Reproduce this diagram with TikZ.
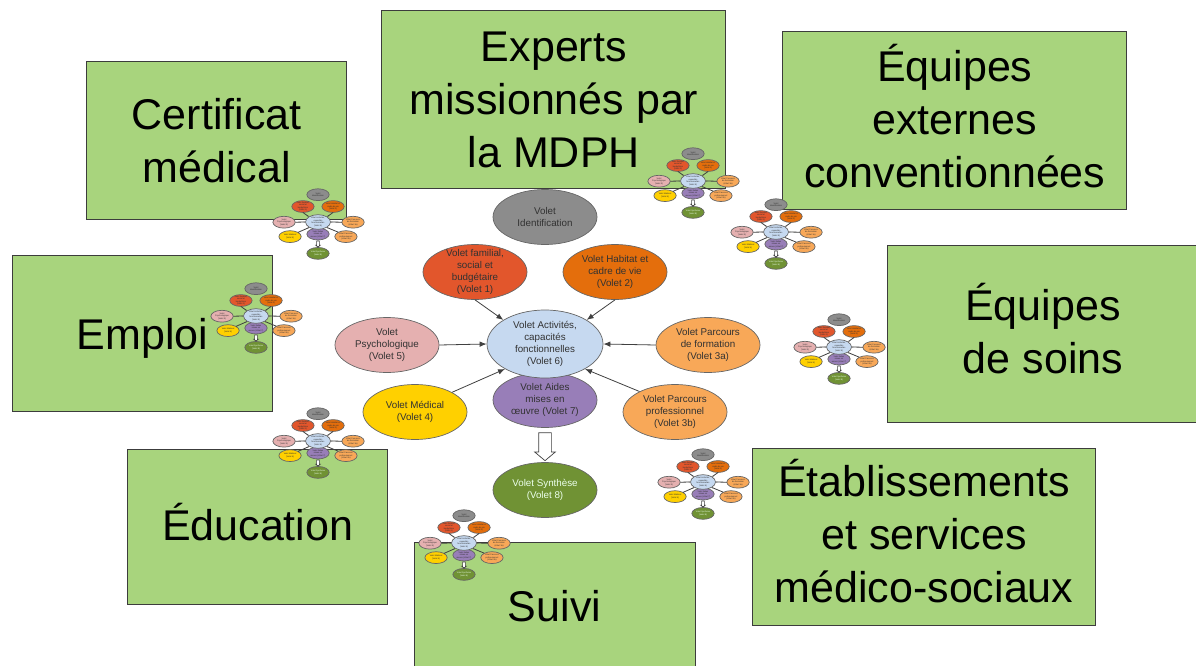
\documentclass[tikz,border=0pt]{standalone}
\usepackage{fontspec}
\setmainfont{Liberation Sans}
\usetikzlibrary{arrows.meta,shapes.geometric,shapes.arrows}

\definecolor{boxgreen}{RGB}{168,212,125}
\definecolor{boxline}{RGB}{60,60,60}
\definecolor{cid}{RGB}{140,140,140}
\definecolor{cfam}{RGB}{226,86,44}
\definecolor{chab}{RGB}{228,110,12}
\definecolor{cpsy}{RGB}{229,176,176}
\definecolor{cctr}{RGB}{198,217,240}
\definecolor{cform}{RGB}{248,168,88}
\definecolor{cmed}{RGB}{255,208,0}
\definecolor{caid}{RGB}{152,126,184}
\definecolor{csyn}{RGB}{112,146,52}
\definecolor{vtextc}{RGB}{50,50,50}

\tikzset{
  topic/.style={draw=boxline, line width=1pt, fill=boxgreen, inner sep=0pt},
  topictext/.style={align=center, font=\fontsize{43}{53}\selectfont, inner sep=0pt},
  volet/.style={ellipse, draw=black!60, line width=0.7pt, fill=#1,
    minimum width=104pt, minimum height=55pt, inner sep=0pt},
  vtext/.style={align=center, font=\fontsize{9.8}{12}\selectfont, text=vtextc, inner sep=0pt},
  feed/.style={draw=black!75, line width=0.8pt, -{Latex[length=7pt,width=5.5pt,scale=#1]}},
  voletdiag/.pic={
    \node[volet=caid] (-aid) at (0,56) {};
    \node[volet=cctr, minimum width=116pt, minimum height=68pt] (-ctr) at (0,0) {};
    \node[volet=cid] (-id) at (0,-127) {};
    \node[volet=cfam] (-fam) at (-70,-72) {};
    \node[volet=chab] (-hab) at (70,-72) {};
    \node[volet=cpsy] (-psy) at (-158,1) {};
    \node[volet=cform] (-form) at (163,1) {};
    \node[volet=cmed] (-med) at (-130,68) {};
    \node[volet=cform] (-prof) at (130,68) {};
    \node[volet=csyn] (-syn) at (0,146) {};
    \node[vtext] (-id-t) at (-id) {Volet\\Identification};
    \node[vtext] (-fam-t) at (-fam) {Volet familial,\\social et\\budgétaire\\(Volet 1)};
    \node[vtext] (-hab-t) at (-hab) {Volet Habitat et\\cadre de vie\\(Volet 2)};
    \node[vtext] (-psy-t) at (-psy) {Volet\\Psychologique\\(Volet 5)};
    \node[vtext] (-ctr-t) at (-ctr) {Volet Activités,\\capacités\\fonctionnelles\\(Volet 6)};
    \node[vtext] (-form-t) at (-form) {Volet Parcours\\de formation\\(Volet 3a)};
    \node[vtext] (-med-t) at (-med) {Volet Médical\\(Volet 4)};
    \node[vtext] (-aid-t) at (-aid) {Volet Aides\\mises en\\œuvre (Volet 7)};
    \node[vtext] (-prof-t) at (-prof) {Volet Parcours\\professionnel\\(Volet 3b)};
    \node[vtext, text=white!92!green] (-syn-t) at (-syn) {Volet Synthèse\\(Volet 8)};
    \node[single arrow, draw=black!75, fill=white, line width=0.7pt, rotate=-90,
      minimum height=28pt, single arrow head extend=4pt, single arrow tip angle=100,
      inner sep=6pt] (-blk) at (0,100) {};
    \draw[feed=#1] (-fam.south) -- (-ctr.150);
    \draw[feed=#1] (-hab.south) -- (-ctr.30);
    \draw[feed=#1] (-psy.east) -- (-ctr.west);
    \draw[feed=#1] (-form.west) -- (-ctr.east);
    \draw[feed=#1] (-med.28) -- (-ctr.212);
    \draw[feed=#1] (-prof.150) -- (-ctr.328);
  }
}

\begin{document}
\begin{tikzpicture}[x=1pt,y=-1pt]
\useasboundingbox (0,0) rectangle (1196,666);
\fill[white] (0,0) rectangle (1196,666);
\begin{scope}
\clip (0,0) rectangle (1196,666);

% topic boxes
\node[topic, minimum width=260pt, minimum height=157pt] (cert) at (216.7,140.5) {};
\node[topictext] (cert-t) at (cert) {Certificat\\médical};
\node[topic, minimum width=343.7pt, minimum height=177pt] (exp) at (553.8,99.5) {};
\node[topictext] (exp-t) at (exp) {Experts\\missionnés par\\la MDPH};
\node[topic, minimum width=344.3pt, minimum height=177pt] (ext) at (954.8,120.5) {};
\node[topictext, yshift=4pt] (ext-t) at (ext) {Équipes\\externes\\conventionnées};
\node[topic, minimum width=312pt, minimum height=177pt] (soin) at (1043,333.5) {};
\node[topictext, yshift=4.5pt] (soin-t) at (soin) {Équipes\\de soins};
\node[topic, minimum width=260pt, minimum height=155.7pt] (emp) at (142.7,333.8) {};
\node[topictext, yshift=-4.4pt] (emp-t) at (emp) {Emploi};
\node[topic, minimum width=260pt, minimum height=155.3pt] (edu) at (257.7,526.7) {};
\node[topictext, yshift=4.5pt] (edu-t) at (edu) {Éducation};
\node[topic, minimum width=281pt, minimum height=126pt] (suiv) at (554.5,605.7) {};
\node[topictext] (suiv-t) at (suiv) {Suivi};
\node[topic, minimum width=343.4pt, minimum height=176.7pt] (etab) at (924,537.3) {};
\node[topictext, yshift=5.8pt] (etab-t) at (etab) {Établissements\\et services\\médico-sociaux};

% miniature copies
\pic[scale=0.215, transform shape] (m1) at (318,222) {voletdiag=0.215};
\pic[scale=0.215, transform shape] (m2) at (693,181) {voletdiag=0.215};
\pic[scale=0.215, transform shape] (m3) at (256,316) {voletdiag=0.215};
\pic[scale=0.215, transform shape] (m4) at (776,232) {voletdiag=0.215};
\pic[scale=0.215, transform shape] (m5) at (839,347) {voletdiag=0.215};
\pic[scale=0.215, transform shape] (m6) at (318,441) {voletdiag=0.215};
\pic[scale=0.215, transform shape] (m7) at (703,482) {voletdiag=0.215};
\pic[scale=0.215, transform shape] (m8) at (464,543) {voletdiag=0.215};

% central diagram
\pic (c) at (545,344) {voletdiag=1};
\end{scope}
\end{tikzpicture}
\end{document}
